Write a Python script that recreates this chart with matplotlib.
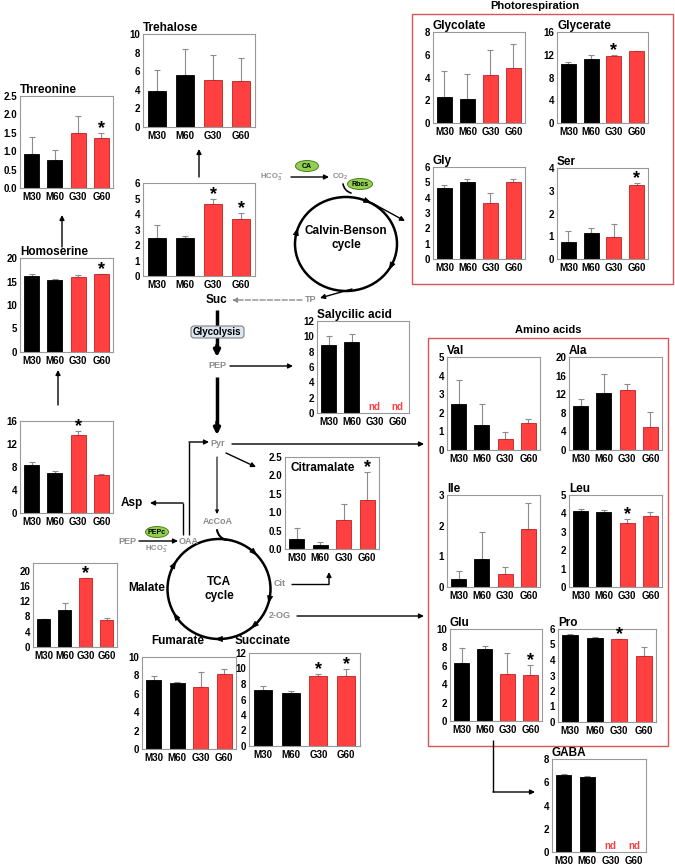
import numpy as np
import matplotlib
matplotlib.use('Agg')
import matplotlib.pyplot as plt
from matplotlib.patches import Ellipse, FancyBboxPatch, Rectangle, Polygon

plt.rcParams['font.family'] = ['Liberation Sans', 'DejaVu Sans']
plt.rcParams['mathtext.default'] = 'regular'

W, H = 675, 868
BLACK = '#000000'
RED = '#FF4040'
RED_EDGE = '#C02020'
GRAY = '#8C8C8C'
BOX_RED = '#D95555'

groups = ['M30', 'M60', 'G30', 'G60']

# values (mean, upper error)
threonine = [0.93, 0.75, 1.50, 1.37]
threonine_err = [0.45, 0.27, 0.45, 0.12]
homoserine = [16.1, 15.4, 16.0, 16.6]
homoserine_err = [0.4, 0.15, 0.4, 0.1]
aspartate = [8.3, 7.0, 13.5, 6.6]
aspartate_err = [0.6, 0.3, 0.7, 0.1]
malate = [7.3, 9.8, 18.0, 7.2]
malate_err = [0.05, 1.8, 0.2, 0.4]
trehalose = [3.9, 5.6, 5.05, 4.95]
trehalose_err = [2.25, 2.8, 2.65, 2.5]
sucrose = [2.45, 2.45, 4.65, 3.7]
sucrose_err = [0.83, 0.1, 0.35, 0.35]
salicylic = [8.85, 9.25, 0, 0]
salicylic_err = [1.15, 1.1, 0, 0]
citramalate = [0.28, 0.10, 0.78, 1.33]
citramalate_err = [0.29, 0.10, 0.45, 0.77]
fumarate = [7.55, 7.2, 6.75, 8.15]
fumarate_err = [0.4, 0.03, 1.6, 0.5]
succinate = [7.25, 6.8, 9.0, 9.0]
succinate_err = [0.55, 0.35, 0.3, 1.0]
glycolate = [2.3, 2.15, 4.25, 4.85]
glycolate_err = [2.25, 2.15, 2.15, 2.1]
glycerate = [10.45, 11.3, 11.8, 12.6]
glycerate_err = [0.3, 0.6, 0.1, 0.1]
gly = [4.65, 5.05, 3.62, 5.05]
gly_err = [0.17, 0.15, 0.7, 0.2]
ser = [0.76, 1.13, 0.97, 3.27]
ser_err = [0.48, 0.23, 0.58, 0.06]
val = [2.5, 1.33, 0.6, 1.45]
val_err = [1.28, 1.14, 0.35, 0.2]
ala = [9.5, 12.2, 12.8, 5.0]
ala_err = [1.5, 4.1, 1.4, 3.1]
ile = [0.27, 0.9, 0.42, 1.88]
ile_err = [0.26, 0.9, 0.23, 0.87]
leu = [4.13, 4.1, 3.47, 3.85]
leu_err = [0.12, 0.1, 0.25, 0.25]
glu = [6.35, 7.82, 5.07, 5.0]
glu_err = [1.55, 0.38, 2.31, 1.05]
pro = [5.6, 5.42, 5.33, 4.27]
pro_err = [0.1, 0.05, 0.02, 0.55]
gaba = [6.6, 6.45, 0, 0]
gaba_err = [0.08, 0.1, 0, 0]

fig = plt.figure(figsize=(W / 100, H / 100), dpi=100)

# overlay for the pathway drawing, in pixel units
ov = fig.add_axes([0, 0, 1, 1])
ov.set_xlim(0, W)
ov.set_ylim(H, 0)
ov.axis('off')


def panel(box, vals, errs, ymax, step, title=None, stars=(), nd=(), dec=0,
          inside=False, ytop=None):
    l, t, r, b = box
    ax = fig.add_axes([l / W, 1 - b / H, (r - l) / W, (b - t) / H])
    ax.set_facecolor('none')
    x = np.arange(len(groups))
    colors = [BLACK, BLACK, RED, RED]
    edges = [BLACK, BLACK, RED_EDGE, RED_EDGE]
    ax.bar(x, vals, width=0.65, color=colors, edgecolor=edges, linewidth=0.6, zorder=2)
    keep = [i for i in x if i not in nd]
    ax.errorbar(x[keep], np.array(vals)[keep],
                yerr=[np.zeros(len(keep)), np.array(errs)[keep]],
                fmt='none', ecolor=GRAY, elinewidth=0.8, capsize=2, capthick=0.8, zorder=1)
    top = ytop if ytop else ymax
    ax.set_xlim(-0.5, 3.5)
    ax.set_ylim(0, top)
    ticks = np.arange(0, ymax + step / 2, step)
    ax.set_yticks(ticks)
    ax.set_yticklabels([f'{v:.{dec}f}' for v in ticks])
    ax.set_xticks(x)
    ax.set_xticklabels(groups)
    ax.tick_params(axis='both', length=0, pad=3)
    ax.tick_params(axis='x', labelsize=7)
    ax.tick_params(axis='y', labelsize=7, pad=2)
    for lab in ax.get_xticklabels() + ax.get_yticklabels():
        lab.set_fontweight('bold')
    for s in ax.spines.values():
        s.set_color('#999999')
        s.set_linewidth(0.8)
    for i in stars:
        ax.annotate('*', (i, vals[i] + errs[i]), xytext=(0, -3), textcoords='offset points',
                    ha='center', va='bottom', fontsize=13, fontweight='bold', clip_on=False)
    for i in nd:
        ax.text(i, top * 0.015, 'nd', color=RED, ha='center', va='bottom',
                fontsize=7, fontweight='bold')
    if title:
        if inside:
            ax.text(0.06, 0.95, title, transform=ax.transAxes, ha='left', va='top',
                    fontsize=8.5, fontweight='bold')
        else:
            ax.set_title(title, loc='left', pad=1.5, fontsize=8.5, fontweight='bold')
    return ax


def arrow(x0, y0, x1, y1, lw=1.0, color='k', ls='-', ms=7):
    ov.annotate('', xy=(x1, y1), xytext=(x0, y0),
                arrowprops=dict(arrowstyle='-|>', lw=lw, color=color, ls=ls,
                                mutation_scale=ms, shrinkA=0, shrinkB=0))


def line(xs, ys, lw=1.0, color='k'):
    ov.plot(xs, ys, color=color, lw=lw, solid_capstyle='butt')


def label(x, y, s, size=6.5, color=GRAY, weight='bold', **kw):
    ov.text(x, y, s, fontsize=size, color=color, fontweight=weight,
            ha=kw.pop('ha', 'center'), va=kw.pop('va', 'center'), **kw)


def cycle_heads(cx, cy, rx, ry, angles):
    # small filled triangles pointing clockwise along the cycle
    for a in angles:
        th = np.radians(a)
        px, py = cx + rx * np.cos(th), cy - ry * np.sin(th)
        dx, dy = np.sin(th), np.cos(th)
        nx, ny = -dy, dx
        tip = (px + 3.5 * dx, py + 3.5 * dy)
        b1 = (px - 3.5 * dx + 2.6 * nx, py - 3.5 * dy + 2.6 * ny)
        b2 = (px - 3.5 * dx - 2.6 * nx, py - 3.5 * dy - 2.6 * ny)
        ov.add_patch(Polygon([tip, b1, b2], closed=True, fc='k', ec='k', lw=0.5, zorder=5))


# --- left column panels
panel((20, 96, 113, 188), threonine, threonine_err, 2.5, 0.5, 'Threonine', stars=[3], dec=1)
panel((20, 258, 113, 352), homoserine, homoserine_err, 20, 5, 'Homoserine', stars=[3])
panel((20, 421, 113, 513), aspartate, aspartate_err, 16, 4, stars=[2])
panel((33, 563, 117, 647), malate, malate_err, 20, 4, stars=[2], ytop=22)

# --- central column panels
panel((143, 34, 255, 127), trehalose, trehalose_err, 10, 2, 'Trehalose')
panel((143, 183, 255, 276), sucrose, sucrose_err, 6, 1, stars=[2, 3])
panel((317, 321, 409, 413), salicylic, salicylic_err, 12, 2, 'Salycilic acid', nd=[2, 3])
panel((285, 457, 379, 549), citramalate, citramalate_err, 2.5, 0.5, 'Citramalate',
      stars=[3], dec=1, inside=True)
panel((142, 657, 236, 749), fumarate, fumarate_err, 10, 2)
panel((249, 653, 360, 746), succinate, succinate_err, 12, 2, stars=[2, 3])

# --- photorespiration
panel((433, 32, 525, 123), glycolate, glycolate_err, 8, 2, 'Glycolate')
panel((557, 32, 648, 123), glycerate, glycerate_err, 16, 4, 'Glycerate', stars=[2])
panel((433, 167, 525, 259), gly, gly_err, 6, 1, 'Gly')
panel((557, 168, 648, 259), ser, ser_err, 4, 1, 'Ser', stars=[3])

# --- amino acids
panel((447, 357, 540, 450), val, val_err, 5, 1, 'Val')
panel((569, 357, 662, 450), ala, ala_err, 20, 4, 'Ala')
panel((447, 495, 540, 587), ile, ile_err, 3, 1, 'Ile')
panel((569, 495, 662, 587), leu, leu_err, 5, 1, 'Leu', stars=[2])
panel((450, 629, 542, 721), glu, glu_err, 10, 2, 'Glu', stars=[3])
panel((558, 629, 656, 722), pro, pro_err, 6, 1, 'Pro', stars=[2])
panel((552, 759, 646, 852), gaba, gaba_err, 8, 2, 'GABA', nd=[2, 3])

# --- group boxes
ov.add_patch(Rectangle((412, 14), 261, 270, fill=False, ec=BOX_RED, lw=1))
ov.add_patch(Rectangle((428, 338), 240, 408, fill=False, ec=BOX_RED, lw=1))
label(535, 6, 'Photorespiration', size=8, color='k')
label(548, 330, 'Amino acids', size=8, color='k')

# --- Calvin-Benson cycle
ov.add_patch(Ellipse((346, 244), 102, 94, fill=False, ec='k', lw=1.8))
label(346, 238, 'Calvin-Benson\ncycle', size=8.5, color='k', linespacing=1.2)
cycle_heads(346, 244, 51, 47, [65, -28, 165])
label(272, 177, 'HCO$_3^-$', size=5.5)
arrow(291, 177, 329, 177)
label(340, 177, 'CO$_2$', size=5.5)
ov.add_patch(Ellipse((307, 166), 23, 11, fc='#92D050', ec='#4F7F1F', lw=0.7))
label(307, 166, 'CA', size=5, color='k')
ov.add_patch(Ellipse((360, 184), 25, 11, fc='#92D050', ec='#4F7F1F', lw=0.7))
label(360, 184, 'Rbcs', size=5, color='k')
ov.annotate('', xy=(351, 193), xytext=(343, 184),
            arrowprops=dict(arrowstyle='-', lw=1.2, color='k',
                            connectionstyle='arc3,rad=0.3', shrinkA=0, shrinkB=0))
arrow(372, 203, 405, 221)
arrow(352, 289, 320, 298)
label(311, 300, 'TP')
arrow(302, 300, 232, 300, color=GRAY, ls='--')
label(217, 300, 'Suc', size=8.5, color='k')

# --- glycolysis
line([217, 217], [310, 348], lw=2.5)
arrow(217, 345, 217, 357, lw=2.5, ms=9)
ov.add_patch(FancyBboxPatch((192, 327), 51, 10, boxstyle='round,pad=1,rounding_size=3',
                            fc='#DCE6F2', ec='#7F7F7F', lw=0.8, zorder=3))
label(217, 332, 'Glycolysis', size=7, color='k', zorder=4)
label(217, 366, 'PEP')
arrow(230, 366, 293, 366)
line([217, 217], [377, 425], lw=2.5)
arrow(217, 422, 217, 435, lw=2.5, ms=9)
label(218, 444, 'Pyr')
arrow(232, 444, 424, 444)
arrow(226, 453, 256, 467)
arrow(217, 457, 217, 514, lw=0.8, ms=5)
label(218, 522, 'AcCoA')
ov.annotate('', xy=(226, 540), xytext=(217, 530),
            arrowprops=dict(arrowstyle='-', lw=1.5, color='k',
                            connectionstyle='arc3,rad=0.3', shrinkA=0, shrinkB=0))

# --- anaplerotic branch
label(127, 541, 'PEP')
arrow(139, 541, 178, 541)
ov.add_patch(Ellipse((157, 532), 23, 11, fc='#92D050', ec='#4F7F1F', lw=0.7))
label(157, 532, 'PEPc', size=5, color='k')
label(157, 549, 'HCO$_3^-$', size=5.5)
label(189, 541, 'OAA')
line([189, 189], [535, 442])
arrow(189, 442, 209, 442)
line([183, 183], [535, 503])
arrow(183, 503, 150, 503)
label(132, 503, 'Asp', size=8.5, color='k')

# --- TCA cycle
ov.add_patch(Ellipse((219, 589), 103, 100, fill=False, ec='k', lw=1.8))
label(219, 589, 'TCA\ncycle', size=8.5, color='k', linespacing=1.2)
cycle_heads(219, 589, 51.5, 50, [47, -12, -47, -90, 213, 151])
label(147, 588, 'Malate', size=8.5, color='k')
label(280, 584, 'Cit')
line([291, 329], [584, 584])
arrow(329, 584, 329, 572)
label(280, 616, '2-OG')
arrow(297, 616, 424, 616)
label(178, 641, 'Fumarate', size=8.5, color='k')
label(263, 641, 'Succinate', size=8.5, color='k')

# --- other connections
arrow(199, 177, 199, 149)
arrow(62, 247, 62, 215)
arrow(58, 405, 58, 370)
line([493, 493], [740, 792])
arrow(493, 792, 535, 792)

fig.savefig('out.png', dpi=100)
